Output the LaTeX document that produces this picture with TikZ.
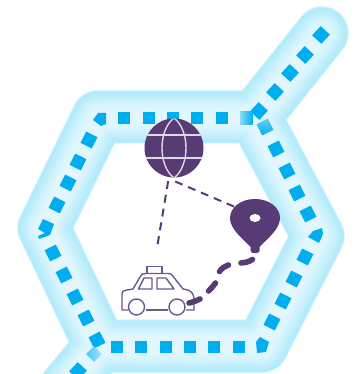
\documentclass[tikz,border=0pt]{standalone}
\usepackage{xcolor}
\usetikzlibrary{arrows.meta,calc}
\definecolor{tileblue}{HTML}{00AEEF}
\definecolor{plum}{HTML}{583A75}
\definecolor{cabline}{HTML}{6A5A8E}
\definecolor{glowb}{HTML}{B2EBFB}
\tikzset{
  tile/.style={fill=tileblue},
  globeline/.style={draw=white!80!plum,line width=1.4pt},
  linkline/.style={plum,line width=2pt,dash pattern=on 8pt off 6pt},
  routeline/.style={plum,line width=5.6pt,line cap=round},
  cabpart/.style={cabline,line width=1.4pt,line join=round}
}
\begin{document}
\begin{tikzpicture}[x=1pt,y=-1pt]
  \useasboundingbox (0,0) rectangle (357,374);
  \clip (0,0) rectangle (357,374);
  \fill[white] (0,0) rectangle (357,374);

  % Glow round the track
  \foreach \w/\p in {54/25,53/55,52/80,51/100,48/96,45/90,42/84,39/78,36/72,33/66,30/60,27/54,24/48,21/44,18/40,15/38}
    \draw[glowb!\p!white,line width=\w pt,line cap=round,line join=round]
      (322,33) -- (255,117) -- (98,117) -- (44,228) -- (100,346) -- (60,394)
      (255,117) -- (318,236) -- (262,346) -- (100,346);

  % Square tiles
  \foreach \x/\y/\a in {321/35/47,305/55/47,290/73/47,275/92/47,259/111/47,
    124/118/0,149/118/0,173/118/0,197/118/0,222/118/0,
    276/149/27,287/171/27,297/193/27,308/214/27,
    305/257/-27,294/279/-27,283/301/-27,272/322/-27,
    239/347/0,214/347/0,190/347/0,166/347/0,141/347/0,117/347/0,
    89/140/-27,78/162/-27,68/183/-27,57/205/-27,
    53/253/27,64/275/27,75/297/27,86/318/27,97/340/27,78/371/47}
    \fill[tile,shift={(\x,\y)},rotate=\a] (-6.3,-6.3) rectangle (6.3,6.3);

  % Faded tiles
  \shade[left color=tileblue!45,right color=tileblue] (240,112) rectangle (252.5,124.5);
  \shade[shift={(265,127)},rotate=27,top color=tileblue!60,bottom color=tileblue] (-6.3,-6.3) rectangle (6.3,6.3);
  \shade[shift={(94,354)},rotate=45,left color=tileblue!70,right color=tileblue!35] (-5.5,-5.5) rectangle (5.5,5.5);

  % Corner pieces
  \fill[tile] (93,120) -- (98,113) -- (106,113) -- (106,124) -- (101,126) -- cycle;
  \fill[tile] (308,237) -- (313,231) -- (322,228) -- (323,234) -- (319,243) -- cycle;
  \fill[tile] (256,342) -- (260,337) -- (269,342) -- (266,352) -- (257,353) -- cycle;
  \fill[tile] (38,229) -- (43,219) -- (54,224) -- (50,235) -- (39,239) -- (38,236) -- (45,233) -- cycle;

  % Globe
  \node[circle,fill=plum,minimum size=59pt,inner sep=0pt,outer sep=4pt] (globe) at (174,148) {};
  \begin{scope}
    \clip (174,148) circle (29.5);
    \draw[globeline] (174,118) .. controls (182,124) and (186,136) .. (186,148)
      .. controls (186,160) and (182,172) .. (174,178)
      .. controls (166,172) and (162,160) .. (162,148)
      .. controls (162,136) and (166,124) .. (174,118) -- cycle;
    \draw[globeline] (140,135) -- (208,135);
    \draw[globeline] (140,158) -- (208,158);
  \end{scope}

  % Pin
  \fill[plum] (255,199) .. controls (270,199) and (280,208) .. (280,218)
    .. controls (280,229) and (268,238) .. (259.5,247) -- (259.5,251)
    .. controls (259,254) and (251,254) .. (250.5,251) -- (250.5,247)
    .. controls (242,238) and (230,229) .. (230,218)
    .. controls (230,208) and (240,199) .. (255,199) -- cycle;
  \fill[white] (255,218) ellipse (5.5 and 4);
  \coordinate (pinlink) at (235,207);
  \coordinate (pinroute) at (252.5,259.5);

  % Taxi
  \coordinate (taxilink) at (157,248);
  \coordinate (taxiroute) at (189,303);
  \draw[cabpart] (128,310) -- (122,310) -- (122,295) .. controls (122,291) and (124,290) .. (127,290)
    -- (133,289) -- (140,277) .. controls (141,274) and (143,273.5) .. (146,273.5) -- (168,273.5)
    .. controls (170,273.5) and (171,274) .. (172,275) -- (183,289) -- (186,289.5)
    .. controls (191,290.5) and (194,294) .. (194,299) -- (194,310) -- (186,310);
  \draw[cabpart] (146,310) -- (168,310);
  \draw[cabpart] (147,273.5) -- (147,266.5) -- (162,266.5) -- (162,273.5);
  \draw[cabpart] (138.5,289) -- (144,278) -- (152,278) -- (152,289) -- cycle;
  \draw[cabpart] (157,278) -- (166,278) -- (174,289) -- (157,289) -- cycle;
  \draw[cabpart] (136.5,307) circle (8);
  \draw[cabpart] (177,307) circle (8);

  % Links and route
  \draw[linkline] (globe.-88) -- (pinlink);
  \draw[linkline] (globe.-100) -- (taxilink);
  \draw[routeline] (pinroute) .. controls (248,262) and (245,263) .. (241,263);
  \draw[routeline] (228.5,265) .. controls (225,266) and (222,268) .. (219.5,271.5);
  \draw[routeline] (215.5,283) .. controls (213,286) and (211,289) .. (208.5,291);
  \draw[routeline] (200,299) .. controls (196,301) and (193,302) .. (taxiroute);
\end{tikzpicture}
\end{document}
